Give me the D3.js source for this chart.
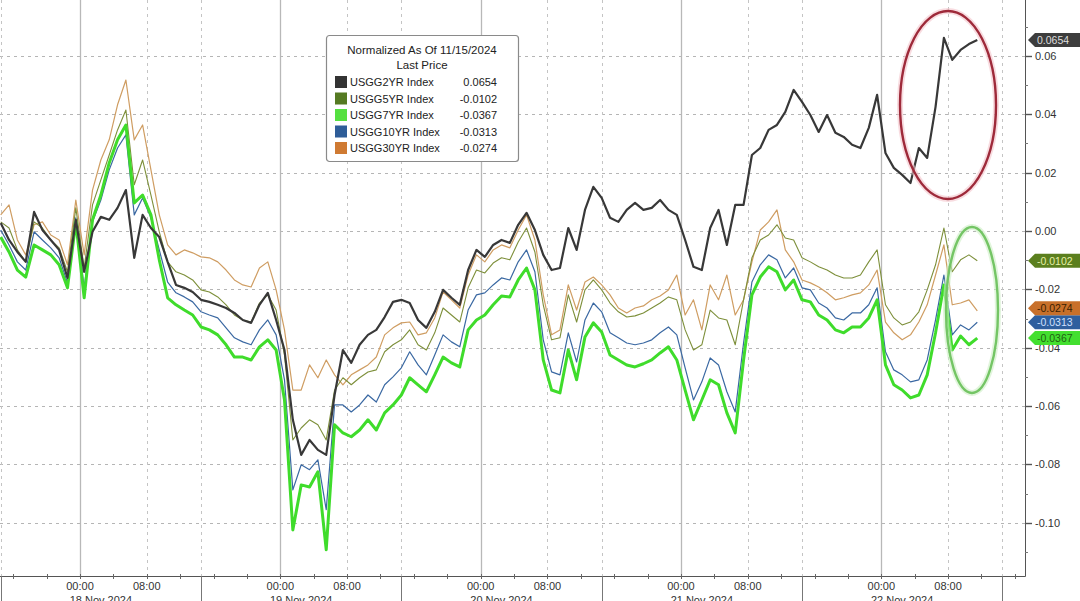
<!DOCTYPE html>
<html>
<head>
<meta charset="utf-8">
<script src="https://cdn.jsdelivr.net/npm/d3@7/dist/d3.min.js"></script>
<style>
    body { margin: 0; background: #fff; }
    svg { display: block; font-family: "Liberation Sans", Arial, sans-serif; }
</style>
</head>
<body>
<div id="chart"></div>
<script>
// hourly samples, 17 Nov 14:30 UTC .. 22 Nov 11:30
var startTime = new Date(Date.UTC(2024, 10, 17, 14, 30));
var times = d3.range(118).map(function (k) { return d3.utcHour.offset(startTime, k); });

var usgg2yr = [
    0.0027, -0.0031, -0.0072, -0.0106, 0.0065, 0.0003, -0.0031, -0.0065, -0.0161, 0.0038,
    -0.0140, -0.0003, 0.0048, 0.0038, 0.0079, 0.0140, -0.0092, 0.0055, 0.0010, -0.0021,
    -0.0106, -0.0185, -0.0195, -0.0209, -0.0236, -0.0243, -0.0253, -0.0264, -0.0281, -0.0305,
    -0.0315, -0.0253, -0.0212, -0.0305, -0.0408, -0.0647, -0.0767, -0.0716, -0.0750, -0.0767,
    -0.0562, -0.0408, -0.0452, -0.0390, -0.0356, -0.0339, -0.0295, -0.0243, -0.0236, -0.0247,
    -0.0305, -0.0332, -0.0277, -0.0202, -0.0229, -0.0253, -0.0134, -0.0065, -0.0089, -0.0048,
    -0.0031, -0.0041, 0.0021, 0.0062, 0.0003, -0.0082, -0.0134, -0.0127, 0.0010, -0.0065,
    0.0072, 0.0151, 0.0113, 0.0045, 0.0031, 0.0072, 0.0096, 0.0072, 0.0079, 0.0106,
    0.0072, 0.0055, -0.0031, -0.0123, -0.0134, 0.0010, 0.0072, -0.0048, 0.0089, 0.0089,
    0.0260, 0.0284, 0.0346, 0.0363, 0.0408, 0.0483, 0.0442, 0.0397, 0.0339, 0.0397,
    0.0336, 0.0322, 0.0295, 0.0284, 0.0353, 0.0466, 0.0267, 0.0216, 0.0192, 0.0164,
    0.0284, 0.0250, 0.0425, 0.0661, 0.0586, 0.0620, 0.0640, 0.0654
];
var usgg5yr = [
    0.0031, 0.0010, -0.0065, -0.0106, 0.0031, 0.0010, -0.0031, -0.0058, -0.0140, 0.0079,
    -0.0127, 0.0089, 0.0175, 0.0260, 0.0346, 0.0414, 0.0158, 0.0243, 0.0123, -0.0003,
    -0.0106, -0.0140, -0.0151, -0.0168, -0.0202, -0.0209, -0.0226, -0.0253, -0.0288, -0.0305,
    -0.0312, -0.0247, -0.0219, -0.0271, -0.0425, -0.0716, -0.0675, -0.0647, -0.0664, -0.0716,
    -0.0545, -0.0503, -0.0527, -0.0503, -0.0483, -0.0476, -0.0414, -0.0390, -0.0373, -0.0339,
    -0.0390, -0.0408, -0.0349, -0.0264, -0.0288, -0.0312, -0.0195, -0.0134, -0.0144, -0.0110,
    -0.0092, -0.0099, -0.0038, 0.0010, -0.0072, -0.0253, -0.0373, -0.0366, -0.0219, -0.0312,
    -0.0202, -0.0168, -0.0202, -0.0247, -0.0277, -0.0295, -0.0291, -0.0281, -0.0264, -0.0247,
    -0.0226, -0.0236, -0.0339, -0.0408, -0.0390, -0.0271, -0.0298, -0.0305, -0.0390, -0.0236,
    -0.0092, -0.0031, -0.0014, 0.0021, -0.0024, -0.0031, -0.0092, -0.0106, -0.0123, -0.0134,
    -0.0151, -0.0161, -0.0161, -0.0151, -0.0106, -0.0065, -0.0253, -0.0298, -0.0322, -0.0312,
    -0.0277, -0.0202, -0.0116, 0.0010, -0.0140, -0.0099, -0.0082, -0.0102
];
var usgg7yr = [
    -0.0021, -0.0072, -0.0134, -0.0158, -0.0048, -0.0065, -0.0082, -0.0116, -0.0195, 0.0031,
    -0.0229, 0.0038, 0.0123, 0.0233, 0.0312, 0.0363, 0.0096, 0.0123, 0.0055, -0.0099,
    -0.0229, -0.0253, -0.0271, -0.0288, -0.0329, -0.0339, -0.0356, -0.0390, -0.0432, -0.0432,
    -0.0442, -0.0397, -0.0373, -0.0408, -0.0579, -0.1024, -0.0870, -0.0877, -0.0825, -0.1092,
    -0.0664, -0.0692, -0.0705, -0.0682, -0.0647, -0.0682, -0.0623, -0.0596, -0.0562, -0.0503,
    -0.0527, -0.0551, -0.0493, -0.0432, -0.0452, -0.0466, -0.0339, -0.0305, -0.0288, -0.0253,
    -0.0223, -0.0226, -0.0168, -0.0127, -0.0202, -0.0442, -0.0545, -0.0555, -0.0408, -0.0510,
    -0.0363, -0.0315, -0.0346, -0.0425, -0.0442, -0.0459, -0.0466, -0.0455, -0.0442, -0.0418,
    -0.0397, -0.0442, -0.0545, -0.0647, -0.0579, -0.0510, -0.0527, -0.0623, -0.0692, -0.0442,
    -0.0219, -0.0158, -0.0123, -0.0140, -0.0202, -0.0168, -0.0236, -0.0243, -0.0288, -0.0305,
    -0.0339, -0.0349, -0.0329, -0.0329, -0.0298, -0.0236, -0.0459, -0.0527, -0.0545, -0.0572,
    -0.0562, -0.0493, -0.0349, -0.0185, -0.0408, -0.0360, -0.0390, -0.0367
];
var usgg10yr = [
    0.0003, -0.0048, -0.0106, -0.0134, -0.0003, -0.0031, -0.0058, -0.0092, -0.0178, 0.0045,
    -0.0195, 0.0031, 0.0106, 0.0209, 0.0284, 0.0329, 0.0055, 0.0113, 0.0045, -0.0065,
    -0.0175, -0.0212, -0.0226, -0.0243, -0.0277, -0.0288, -0.0298, -0.0332, -0.0366, -0.0380,
    -0.0390, -0.0339, -0.0305, -0.0356, -0.0510, -0.0887, -0.0801, -0.0818, -0.0784, -0.0955,
    -0.0596, -0.0596, -0.0620, -0.0596, -0.0562, -0.0586, -0.0527, -0.0500, -0.0469, -0.0414,
    -0.0459, -0.0493, -0.0425, -0.0356, -0.0380, -0.0397, -0.0271, -0.0219, -0.0212, -0.0185,
    -0.0161, -0.0168, -0.0106, -0.0065, -0.0140, -0.0373, -0.0483, -0.0493, -0.0349, -0.0449,
    -0.0305, -0.0247, -0.0277, -0.0349, -0.0366, -0.0384, -0.0390, -0.0384, -0.0373, -0.0349,
    -0.0329, -0.0356, -0.0469, -0.0579, -0.0517, -0.0435, -0.0459, -0.0551, -0.0620, -0.0384,
    -0.0175, -0.0116, -0.0082, -0.0099, -0.0161, -0.0127, -0.0195, -0.0202, -0.0247, -0.0264,
    -0.0298, -0.0305, -0.0281, -0.0281, -0.0253, -0.0195, -0.0414, -0.0476, -0.0493, -0.0517,
    -0.0510, -0.0442, -0.0305, -0.0151, -0.0356, -0.0322, -0.0339, -0.0313
];
var usgg30yr = [
    0.0055, 0.0089, -0.0031, -0.0082, 0.0021, 0.0031, -0.0014, -0.0031, -0.0116, 0.0106,
    -0.0082, 0.0140, 0.0243, 0.0312, 0.0432, 0.0517, 0.0312, 0.0363, 0.0209, 0.0055,
    -0.0048, -0.0082, -0.0065, -0.0075, -0.0089, -0.0092, -0.0106, -0.0134, -0.0168, -0.0185,
    -0.0192, -0.0127, -0.0106, -0.0202, -0.0339, -0.0545, -0.0545, -0.0459, -0.0503, -0.0442,
    -0.0493, -0.0527, -0.0493, -0.0476, -0.0459, -0.0432, -0.0356, -0.0332, -0.0315, -0.0312,
    -0.0356, -0.0349, -0.0298, -0.0209, -0.0236, -0.0264, -0.0151, -0.0082, -0.0106, -0.0065,
    -0.0048, -0.0058, 0.0003, 0.0055, -0.0031, -0.0219, -0.0356, -0.0339, -0.0185, -0.0271,
    -0.0175, -0.0158, -0.0185, -0.0219, -0.0264, -0.0281, -0.0264, -0.0257, -0.0236, -0.0223,
    -0.0202, -0.0151, -0.0288, -0.0236, -0.0339, -0.0185, -0.0236, -0.0151, -0.0288, -0.0236,
    -0.0106, 0.0003, 0.0031, 0.0072, -0.0065, -0.0106, -0.0168, -0.0178, -0.0192, -0.0212,
    -0.0236, -0.0229, -0.0219, -0.0212, -0.0185, -0.0134, -0.0312, -0.0349, -0.0373, -0.0356,
    -0.0312, -0.0253, -0.0151, -0.0048, -0.0253, -0.0247, -0.0236, -0.0274
];

var seriesNames = ["USGG2YR Index", "USGG5YR Index", "USGG7YR Index", "USGG10YR Index", "USGG30YR Index"];
var yTicks = [0.06, 0.04, 0.02, 0.00, -0.02, -0.04, -0.06, -0.08, -0.10];
var dayLabels = ["18 Nov 2024", "19 Nov 2024", "20 Nov 2024", "21 Nov 2024", "22 Nov 2024"];
var legendTitle = ["Normalized As Of 11/15/2024", "Last Price"];

var W = 1080, H = 601;
var plot = {left: 0, top: 0, right: 1025, bottom: 576};

var series = [
    {name: seriesNames[0], values: usgg2yr, line: "#383838", width: 2.2, swatch: "#333333", tag: "#3d3d3d", tagText: "#dddddd"},
    {name: seriesNames[1], values: usgg5yr, line: "#7d8f3a", width: 1.1, swatch: "#557a22", tag: "#5b7f1e", tagText: "#e6f0a8"},
    {name: seriesNames[2], values: usgg7yr, line: "#3fdc2b", width: 3, swatch: "#55e040", tag: "#43df2f", tagText: "#1f5f12"},
    {name: seriesNames[3], values: usgg10yr, line: "#3a68a2", width: 1.2, swatch: "#2e5d98", tag: "#2f5f9e", tagText: "#cfe0ff"},
    {name: seriesNames[4], values: usgg30yr, line: "#cf9d62", width: 1.2, swatch: "#cf7a32", tag: "#c8702a", tagText: "#3a1e00"}
];
// back-to-front drawing order
var drawOrder = [4, 3, 1, 2, 0];

var svg = d3.select("#chart").append("svg")
        .attr("width", W)
        .attr("height", H);

svg.append("rect").attr("width", W).attr("height", H).attr("fill", "#fff");

var x = d3.scaleTime()
        .domain([new Date(Date.UTC(2024, 10, 17, 14, 25)), new Date(Date.UTC(2024, 10, 22, 17, 13))])
        .range([plot.left, plot.right]);

var y = d3.scaleLinear()
        .domain([-0.1182, 0.0791])
        .range([plot.bottom, plot.top]);

var grid = svg.append("g");

// horizontal dotted grid
grid.selectAll(".hgrid").data(yTicks).enter().append("line")
        .attr("x1", plot.left).attr("x2", plot.right)
        .attr("y1", function (d) { return Math.round(y(d)) + 0.5; })
        .attr("y2", function (d) { return Math.round(y(d)) + 0.5; })
        .attr("stroke", "#b5b5b5")
        .attr("stroke-dasharray", "3,4");

// vertical grid: solid at midnight, dotted at 08:00 and session breaks
var hours = d3.utcHour.every(4).range(x.domain()[0], x.domain()[1]);
var midnights = hours.filter(function (d) { return d.getUTCHours() === 0; });
var eights = hours.filter(function (d) { return d.getUTCHours() === 8; });
var seps = d3.range(6).map(function (k) { return new Date(Date.UTC(2024, 10, 17 + k, 14, 30)); })
        .filter(function (d) { return d < x.domain()[1]; });

grid.selectAll(".vsolid").data(midnights).enter().append("line")
        .attr("x1", function (d) { return Math.round(x(d)) + 0.5; })
        .attr("x2", function (d) { return Math.round(x(d)) + 0.5; })
        .attr("y1", plot.top).attr("y2", plot.bottom)
        .attr("stroke", "#b8b8b8")
        .attr("stroke-width", 1.3);

grid.selectAll(".vdot").data(eights.concat(seps)).enter().append("line")
        .attr("x1", function (d) { return Math.round(x(d)) + 0.5; })
        .attr("x2", function (d) { return Math.round(x(d)) + 0.5; })
        .attr("y1", plot.top).attr("y2", plot.bottom)
        .attr("stroke", "#c4c4c4")
        .attr("stroke-dasharray", "3,4");

// lines
var line = d3.line()
        .x(function (d, i) { return x(times[i]); })
        .y(function (d) { return y(d); });

var lines = svg.append("g");
drawOrder.forEach(function (i) {
    var s = series[i];
    lines.append("path")
            .datum(s.values)
            .attr("d", line)
            .attr("fill", "none")
            .attr("stroke", s.line)
            .attr("stroke-width", s.width)
            .attr("stroke-linejoin", "round");
});

// annotation ellipses
function ring(cx, cy, rx, ry, glow, stroke) {
    svg.append("ellipse").attr("cx", cx).attr("cy", cy).attr("rx", rx).attr("ry", ry)
            .attr("fill", "none").attr("stroke", glow).attr("stroke-width", 6).attr("opacity", 0.6);
    svg.append("ellipse").attr("cx", cx).attr("cy", cy).attr("rx", rx).attr("ry", ry)
            .attr("fill", "none").attr("stroke", stroke).attr("stroke-width", 2.4);
}
ring(948, 105, 48, 94, "#f3c4cc", "#9e2a3a");
ring(972, 310, 26, 83, "#cdeec4", "#74c565");

// axes frame
svg.append("line").attr("x1", plot.right + 0.5).attr("x2", plot.right + 0.5)
        .attr("y1", plot.top).attr("y2", plot.bottom + 0.5)
        .attr("stroke", "#555");
svg.append("line").attr("x1", plot.left).attr("x2", plot.right + 0.5)
        .attr("y1", plot.bottom + 0.5).attr("y2", plot.bottom + 0.5)
        .attr("stroke", "#555");

// right axis
var minor = d3.range(-11, 8).map(function (k) { return k / 100; });
svg.selectAll(".ymin").data(minor).enter().append("line")
        .attr("x1", plot.right).attr("x2", plot.right + 3)
        .attr("y1", function (d) { return Math.round(y(d)) + 0.5; })
        .attr("y2", function (d) { return Math.round(y(d)) + 0.5; })
        .attr("stroke", "#777");
svg.selectAll(".ymaj").data(yTicks).enter().append("line")
        .attr("x1", plot.right).attr("x2", plot.right + 7)
        .attr("y1", function (d) { return Math.round(y(d)) + 0.5; })
        .attr("y2", function (d) { return Math.round(y(d)) + 0.5; })
        .attr("stroke", "#555")
        .attr("stroke-width", 1.4);
svg.selectAll(".ylab").data(yTicks).enter().append("text")
        .attr("x", plot.right + 10)
        .attr("y", function (d) { return y(d) + 4; })
        .attr("font-size", 11)
        .attr("fill", "#333")
        .text(function (d) { return d.toFixed(2); });

// bottom axis
svg.selectAll(".xtick").data(hours).enter().append("line")
        .attr("x1", function (d) { return Math.round(x(d)) + 0.5; })
        .attr("x2", function (d) { return Math.round(x(d)) + 0.5; })
        .attr("y1", plot.bottom - 2).attr("y2", plot.bottom + 3)
        .attr("stroke", "#666");
svg.selectAll(".xsep").data(seps).enter().append("line")
        .attr("x1", function (d) { return Math.round(x(d)) + 0.5; })
        .attr("x2", function (d) { return Math.round(x(d)) + 0.5; })
        .attr("y1", plot.bottom).attr("y2", H)
        .attr("stroke", "#777");
svg.selectAll(".xlab").data(midnights.concat(eights)).enter().append("text")
        .attr("x", function (d) { return x(d); })
        .attr("y", plot.bottom + 14)
        .attr("text-anchor", "middle")
        .attr("font-size", 11)
        .attr("fill", "#333")
        .text(d3.utcFormat("%H:%M"));
// the date row sits at the very bottom edge, as in the source
svg.selectAll(".dlab").data(dayLabels).enter().append("text")
        .attr("x", function (d, i) { return (x(seps[i]) + x(d3.utcDay.offset(seps[i], 1))) / 2; })
        .attr("y", plot.bottom + 28)
        .attr("text-anchor", "middle")
        .attr("font-size", 11)
        .attr("fill", "#333")
        .text(function (d) { return d; });

// last-value tags on the right, pushed apart when they collide
var tags = series.map(function (s) {
    var v = s.values[s.values.length - 1];
    return {s: s, v: v, ty: y(v)};
}).sort(function (a, b) { return b.ty - a.ty; });
for (var i = 1; i < tags.length; i++) {
    tags[i].ty = Math.min(tags[i].ty, tags[i - 1].ty - 14);
}
var tagG = svg.append("g");
tags.forEach(function (t) {
    var x0 = plot.right + 3, h = 7;
    tagG.append("path")
            .attr("d", "M" + x0 + "," + t.ty + "L" + (x0 + 7) + "," + (t.ty - h) + "L" + W + "," + (t.ty - h) +
                "L" + W + "," + (t.ty + h) + "L" + (x0 + 7) + "," + (t.ty + h) + "Z")
            .attr("fill", t.s.tag);
    tagG.append("text")
            .attr("x", x0 + 9)
            .attr("y", t.ty + 4)
            .attr("font-size", 10.5)
            .attr("fill", t.s.tagText)
            .text(t.v.toFixed(4));
});

// legend
var lg = svg.append("g").attr("transform", "translate(326,35)");
lg.append("rect").attr("x", 0.5).attr("y", 0.5).attr("width", 192).attr("height", 126)
        .attr("rx", 3).attr("fill", "#fff").attr("stroke", "#8a8a8a").attr("stroke-width", 1.2);
lg.selectAll(".lt").data(legendTitle).enter().append("text")
        .attr("x", 96).attr("y", function (d, i) { return 19 + i * 15; })
        .attr("text-anchor", "middle")
        .attr("font-size", 11.5)
        .attr("fill", "#222")
        .text(function (d) { return d; });
series.forEach(function (s, i) {
    var ry = 47 + i * 16.5;
    lg.append("rect").attr("x", 9).attr("y", ry - 6).attr("width", 12).attr("height", 12).attr("fill", s.swatch);
    lg.append("text").attr("x", 24).attr("y", ry + 4).attr("font-size", 11).attr("fill", "#222").text(s.name);
    lg.append("text").attr("x", 171).attr("y", ry + 4).attr("text-anchor", "end")
            .attr("font-size", 11).attr("fill", "#222")
            .text(s.values[s.values.length - 1].toFixed(4));
});
</script>
</body>
</html>
